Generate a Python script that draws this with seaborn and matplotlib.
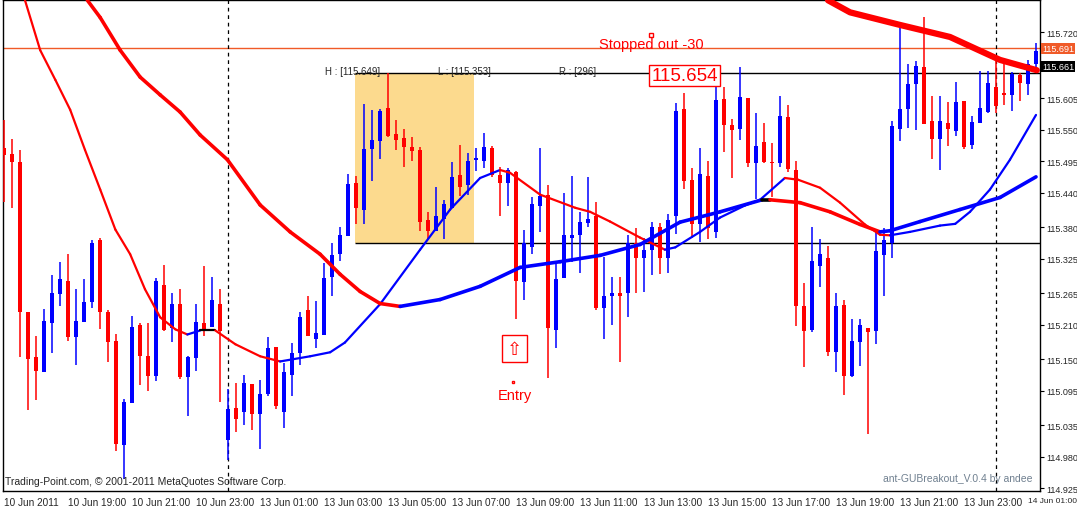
import matplotlib
matplotlib.use("Agg")
import matplotlib.pyplot as plt
import numpy as np
import seaborn as sns
from matplotlib.collections import LineCollection
from matplotlib.patches import Rectangle

sns.set_theme(style="white")
plt.rcParams['font.family'] = ['Liberation Sans', 'DejaVu Sans']

# OHLC of 15-minute bars
opens = [115.519,115.508,115.494,115.233,115.153,115.127,115.213,115.263,115.287,115.188,
         115.214,115.249,115.357,115.233,115.181,115.000,115.073,115.209,115.155,115.120,
         115.280,115.204,115.246,115.119,115.152,115.213,115.206,115.247,115.009,115.065,
         115.058,115.106,115.054,115.089,115.171,115.058,115.122,115.160,115.235,115.186,
         115.192,115.294,115.333,115.364,115.458,115.411,115.517,115.531,115.588,115.543,
         115.536,115.520,115.515,115.393,115.374,115.395,115.414,115.472,115.453,115.498,
         115.496,115.519,115.472,115.458,115.477,115.284,115.346,115.418,115.437,115.200,
         115.291,115.362,115.366,115.388,115.400,115.239,115.260,115.266,115.265,115.352,
         115.327,115.340,115.380,115.327,115.399,115.586,115.463,115.385,115.470,115.371,
         115.604,115.559,115.552,115.606,115.493,115.529,115.494,115.493,115.573,115.480,
         115.242,115.200,115.312,115.327,115.162,115.244,115.120,115.180,115.204,115.199,
         115.331,115.352,115.552,115.586,115.630,115.659,115.566,115.534,115.562,115.548,
         115.600,115.524,115.562,115.581,115.625,115.614,115.611,115.646,115.630,115.665]
highs = [115.567,115.534,115.515,115.233,115.190,115.237,115.296,115.319,115.333,115.272,
         115.289,115.357,115.362,115.235,115.193,115.080,115.226,115.213,115.213,115.291,
         115.315,115.266,115.273,115.155,115.247,115.313,115.293,115.273,115.098,115.108,
         115.122,115.106,115.113,115.188,115.172,115.143,115.178,115.233,115.260,115.251,
         115.317,115.352,115.381,115.473,115.470,115.595,115.585,115.586,115.649,115.567,
         115.552,115.538,115.520,115.407,115.451,115.428,115.494,115.524,115.510,115.519,
         115.545,115.522,115.486,115.484,115.479,115.376,115.433,115.519,115.453,115.320,
         115.440,115.470,115.407,115.468,115.425,115.329,115.293,115.294,115.367,115.378,
         115.362,115.390,115.388,115.404,115.597,115.614,115.484,115.519,115.496,115.632,
         115.625,115.569,115.659,115.606,115.579,115.562,115.527,115.609,115.593,115.496,
         115.282,115.381,115.360,115.348,115.265,115.254,115.220,115.220,115.204,115.373,
         115.378,115.566,115.727,115.665,115.670,115.746,115.609,115.609,115.599,115.633,
         115.600,115.574,115.653,115.653,115.677,115.665,115.651,115.649,115.672,115.701]
lows = [115.425,115.414,115.153,115.061,115.078,115.127,115.160,115.242,115.181,115.140,
        115.214,115.239,115.202,115.145,114.990,114.941,115.073,115.105,115.094,115.112,
        115.199,115.180,115.115,115.051,115.129,115.190,115.206,115.075,114.974,115.023,
        115.035,115.026,114.993,115.086,115.063,115.030,115.086,115.140,115.190,115.169,
        115.192,115.260,115.322,115.364,115.385,115.385,115.461,115.500,115.538,115.515,
        115.486,115.496,115.374,115.359,115.374,115.359,115.414,115.435,115.437,115.479,
        115.484,115.468,115.400,115.418,115.220,115.253,115.333,115.371,115.117,115.169,
        115.291,115.320,115.301,115.381,115.235,115.186,115.209,115.145,115.223,115.266,
        115.268,115.296,115.298,115.301,115.369,115.447,115.362,115.355,115.359,115.362,
        115.512,115.466,115.533,115.486,115.430,115.493,115.433,115.486,115.477,115.207,
        115.136,115.197,115.275,115.155,115.127,115.087,115.119,115.138,115.019,115.176,
        115.261,115.326,115.531,115.553,115.550,115.560,115.500,115.480,115.522,115.539,
        115.517,115.517,115.562,115.579,115.579,115.593,115.583,115.600,115.611,115.658]
closes = [115.506,115.494,115.233,115.150,115.129,115.216,115.266,115.289,115.188,115.216,
          115.249,115.353,115.232,115.180,115.002,115.075,115.206,115.155,115.120,115.287,
          115.200,115.247,115.119,115.153,115.214,115.199,115.254,115.199,115.063,115.046,
          115.108,115.054,115.089,115.169,115.068,115.127,115.160,115.223,115.190,115.195,
          115.291,115.331,115.367,115.456,115.413,115.517,115.533,115.583,115.540,115.533,
          115.520,115.513,115.390,115.373,115.399,115.420,115.468,115.451,115.496,115.501,
          115.520,115.472,115.458,115.480,115.286,115.353,115.420,115.435,115.204,115.289,
          115.366,115.367,115.390,115.395,115.240,115.261,115.265,115.260,115.352,115.326,
          115.340,115.381,115.327,115.393,115.583,115.461,115.385,115.473,115.378,115.602,
          115.559,115.550,115.607,115.493,115.522,115.494,115.493,115.574,115.482,115.242,
          115.199,115.322,115.333,115.162,115.242,115.120,115.181,115.209,115.197,115.338,
          115.357,115.557,115.586,115.630,115.661,115.560,115.534,115.566,115.552,115.599,
          115.520,115.564,115.588,115.632,115.592,115.611,115.647,115.632,115.665,115.687]

# moving averages sampled at bar positions (bar index, price)
fast_x = [2.6,4.5,6.4,8.25,10.1,12,13.9,15.75,17.6,19.5,21.4,22.9,24.5,26.4,28.9,32,34.5,38.25,40.75,42.6,
          47,52,55.75,59.5,62,63.25,67,71.4,73.25,75.75,79.5,82.6,83.9,87,89.5,92.6,94.5,97.6,99.25,102,
          104.5,107.6,109.5,110.75,113.25,117,118.9,120.75,123.25,125.75,129]
fast_y = [115.776,115.689,115.637,115.585,115.515,115.446,115.376,115.333,115.272,115.223,115.202,115.193,
          115.200,115.200,115.176,115.155,115.146,115.155,115.162,115.179,115.246,115.341,115.411,115.466,
          115.480,115.475,115.437,115.414,115.407,115.390,115.362,115.341,115.345,115.372,115.397,115.418,
          115.428,115.466,115.463,115.449,115.423,115.385,115.367,115.366,115.372,115.383,115.386,115.407,
          115.446,115.498,115.576]
mid_x = [10.4,12,14.5,17,19.5,22,24.5,27.9,32,35.75,39.5,42,44.5,47,49.5,54.5,59.5,64.5,69.5,74.5,
         79.5,84.5,89.5,94.75,95.75,99.5,103.25,107,109.5,110.75,114.5,119.5,124.5,129]
mid_y = [115.776,115.746,115.689,115.642,115.611,115.581,115.541,115.498,115.419,115.372,115.333,115.298,
         115.268,115.247,115.242,115.254,115.277,115.310,115.320,115.331,115.350,115.389,115.407,115.428,
         115.428,115.423,115.407,115.385,115.372,115.374,115.390,115.411,115.432,115.468]
slow_x = [103.0,105.75,112,118.25,124.5,129.1]
slow_y = [115.776,115.755,115.733,115.712,115.672,115.654]

tick_pos = [0,8,16,24,32,40,48,56,64,72,80,88,96,104,112,120,128]
tick_lab = ["10 Jun 2011","10 Jun 19:00","10 Jun 21:00","10 Jun 23:00","13 Jun 01:00","13 Jun 03:00",
            "13 Jun 05:00","13 Jun 07:00","13 Jun 09:00","13 Jun 11:00","13 Jun 13:00","13 Jun 15:00",
            "13 Jun 17:00","13 Jun 19:00","13 Jun 21:00","13 Jun 23:00","14 Jun 01:00"]
price_ticks = [115.720,115.605,115.550,115.495,115.440,115.380,115.325,115.265,115.210,
               115.150,115.095,115.035,114.980,114.925]
day_sep = [28, 124]
box_high, box_low, box_start, box_end = 115.649, 115.353, 43.9, 58.75
bid, last_label = 115.692, 115.661

FS = 6.5
fig = plt.figure(figsize=(10.77, 5.10), dpi=100)
ax = fig.add_axes([3/1077, 18/510, 1037/1077, 491/510])
ax.set_xlim(-0.15, 129.5)
ax.set_ylim(114.920, 115.7765)

ax.add_patch(Rectangle((box_start, box_low), box_end-box_start, box_high-box_low,
                       facecolor='#FCDA8E', edgecolor='none', zorder=0))
ax.hlines([box_high, box_low], box_start, 129.5, color='black', lw=1, zorder=1)
ax.axhline(bid, color='#F05A28', lw=1, zorder=1)
for d in day_sep:
    ax.axvline(d, color='black', lw=0.9, ls=(0, (3, 3)), zorder=1)

x = np.arange(len(opens))
o = np.array(opens); c = np.array(closes)
cols = np.where(c >= o, '#0000FF', '#FF0000')
ax.vlines(x, lows, highs, colors=cols, lw=1.1, zorder=3)
bottom = np.minimum(o, c); height = np.maximum(np.abs(c-o), 0.0012)
ax.bar(x, height, bottom=bottom, width=0.5, color=cols, zorder=3, linewidth=0)

def colored(xs, ys, lw):
    xs = np.array(xs); ys = np.array(ys)
    segs = [[(xs[i], ys[i]), (xs[i+1], ys[i+1])] for i in range(len(xs)-1)]
    d = np.diff(ys)
    cc = ['#FF0000' if v < -0.0008 else ('#0000FF' if v > 0.0008 else 'black') for v in d]
    ax.add_collection(LineCollection(segs, colors=cc, linewidths=lw, zorder=4, capstyle='round'))

colored(fast_x, fast_y, 1.6)
colored(mid_x, mid_y, 2.6)
sns.lineplot(x=slow_x, y=slow_y, ax=ax, color='#FF0000', lw=4.5, zorder=4)

ax.set_xticks(tick_pos)
ax.set_xticklabels(tick_lab, ha='left', fontsize=7.2)
lt = ax.get_xticklabels()[-1]
lt.set_fontsize(6.0)
ax.yaxis.tick_right()
ax.set_yticks(price_ticks)
ax.set_yticklabels([f"{v:.3f}" for v in price_ticks], fontsize=FS)
ax.tick_params(axis='both', length=3, width=0.8, color='black', pad=1.5, direction='out')
for s in ax.spines.values():
    s.set_color('black'); s.set_linewidth(1)

tr = ax.get_yaxis_transform()
ax.text(1.002, bid, "115.691", transform=tr, fontsize=FS, color='white', va='center', ha='left',
        bbox=dict(boxstyle='square,pad=0.12', fc='#F05A28', ec='none'), clip_on=False, zorder=6)
ax.text(1.002, last_label, "115.661", transform=tr, fontsize=FS, color='white', va='center', ha='left',
        bbox=dict(boxstyle='square,pad=0.12', fc='black', ec='none'), clip_on=False, zorder=6)

ax.text(40.1, 115.644, "H : [115.649]", fontsize=7, va='bottom', ha='left')
ax.text(54.2, 115.644, "L : [115.353]", fontsize=7, va='bottom', ha='left')
ax.text(69.4, 115.644, "R : [296]", fontsize=7, va='bottom', ha='left')
ax.text(80.9, 115.700, "Stopped out -30", fontsize=10.5, color='#FF0000', ha='center', va='center')
ax.plot([80.9], [115.716], marker='s', ms=2.5, mfc='white', mec='#FF0000', zorder=6)
ax.text(85.1, 115.645, "115.654", fontsize=13.5, color='#FF0000', ha='center', va='center',
        bbox=dict(boxstyle='square,pad=0.12', fc='white', ec='#FF0000', lw=1), zorder=6)
ax.text(63.8, 115.168, "\u21e7", fontsize=13, color='#FF0000', ha='center', va='center',
        family='DejaVu Sans',
        bbox=dict(boxstyle='square,pad=0.25', fc='white', ec='#FF0000', lw=1), zorder=6)
ax.plot([63.6], [115.110], marker='s', ms=2, mfc='white', mec='#FF0000', zorder=6)
ax.text(63.8, 115.088, "Entry", fontsize=10.5, color='#FF0000', ha='center', va='center')
ax.text(0.002, 0.01, "Trading-Point.com, © 2001-2011 MetaQuotes Software Corp.", transform=ax.transAxes,
        fontsize=7.5, ha='left', va='bottom')
ax.text(0.993, 0.016, "ant-GUBreakout_V.0.4 by andee", transform=ax.transAxes,
        fontsize=7.5, ha='right', va='bottom', color='#708090')

fig.savefig("out.png", dpi=100)
